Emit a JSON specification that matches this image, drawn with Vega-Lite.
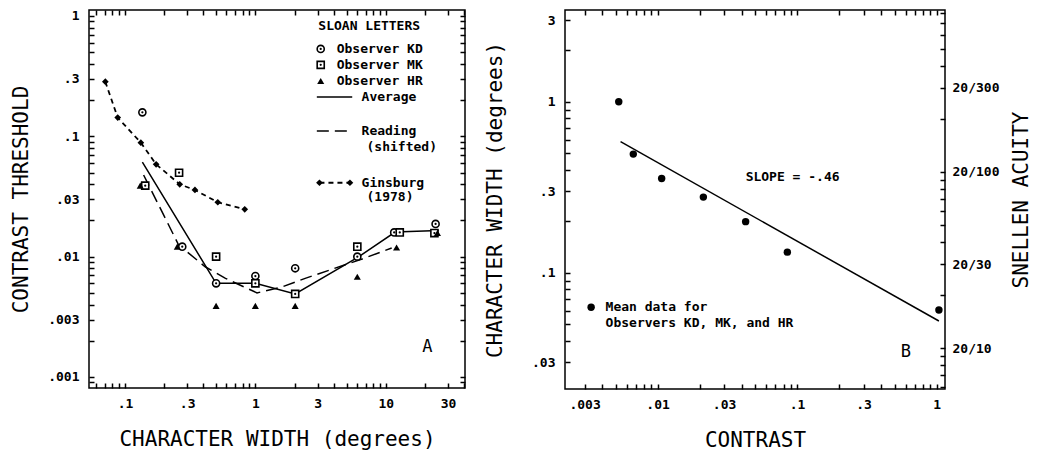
{
  "$schema": "https://vega.github.io/schema/vega-lite/v6.json",
  "padding": {"left": 9, "top": 6, "right": 2, "bottom": 0},
  "background": "white",
  "datasets": {
    "obs": [
      {"obs": "KD", "x": 0.136, "y": 0.158, "part": "data"},
      {"obs": "KD", "x": 0.275, "y": 0.0121, "part": "data"},
      {"obs": "KD", "x": 0.5, "y": 0.006, "part": "data"},
      {"obs": "KD", "x": 1.0, "y": 0.0069, "part": "data"},
      {"obs": "KD", "x": 2.02, "y": 0.008, "part": "data"},
      {"obs": "KD", "x": 6.05, "y": 0.01, "part": "data"},
      {"obs": "KD", "x": 11.6, "y": 0.0159, "part": "data"},
      {"obs": "KD", "x": 24.1, "y": 0.0187, "part": "data"},
      {"obs": "MK", "x": 0.143, "y": 0.0389, "part": "data"},
      {"obs": "MK", "x": 0.26, "y": 0.0498, "part": "data"},
      {"obs": "MK", "x": 0.5, "y": 0.01, "part": "data"},
      {"obs": "MK", "x": 1.0, "y": 0.006, "part": "data"},
      {"obs": "MK", "x": 2.02, "y": 0.0049, "part": "data"},
      {"obs": "MK", "x": 6.05, "y": 0.0121, "part": "data"},
      {"obs": "MK", "x": 12.8, "y": 0.0159, "part": "data"},
      {"obs": "MK", "x": 23.6, "y": 0.0157, "part": "data"},
      {"obs": "HR", "x": 0.131, "y": 0.0389, "part": "data"},
      {"obs": "HR", "x": 0.252, "y": 0.0121, "part": "data"},
      {"obs": "HR", "x": 0.5, "y": 0.0039, "part": "data"},
      {"obs": "HR", "x": 1.0, "y": 0.0039, "part": "data"},
      {"obs": "HR", "x": 2.02, "y": 0.0039, "part": "data"},
      {"obs": "HR", "x": 6.05, "y": 0.0068, "part": "data"},
      {"obs": "HR", "x": 12.1, "y": 0.0119, "part": "data"},
      {"obs": "HR", "x": 24.9, "y": 0.0157, "part": "data"},
      {"obs": "KD", "x": 3.17, "y": 0.532, "part": "legend"},
      {"obs": "MK", "x": 3.17, "y": 0.392, "part": "legend"},
      {"obs": "HR", "x": 3.17, "y": 0.288, "part": "legend"}
    ],
    "ginsburg": [
      {"x": 0.0707, "y": 0.284, "part": "data"},
      {"x": 0.088, "y": 0.143, "part": "data"},
      {"x": 0.1324, "y": 0.0885, "part": "data"},
      {"x": 0.1734, "y": 0.0585, "part": "data"},
      {"x": 0.263, "y": 0.0399, "part": "data"},
      {"x": 0.344, "y": 0.0358, "part": "data"},
      {"x": 0.515, "y": 0.0283, "part": "data"},
      {"x": 0.829, "y": 0.0247, "part": "data"},
      {"x": 3.1, "y": 0.0411, "part": "legend"},
      {"x": 5.31, "y": 0.0411, "part": "legend"}
    ],
    "avg": [
      {"x": 0.136, "y": 0.061, "part": "data"},
      {"x": 0.5, "y": 0.006, "part": "data"},
      {"x": 1.0, "y": 0.006, "part": "data"},
      {"x": 2.02, "y": 0.0049, "part": "data"},
      {"x": 6.05, "y": 0.0098, "part": "data"},
      {"x": 11.8, "y": 0.016, "part": "data"},
      {"x": 25.5, "y": 0.0165, "part": "data"},
      {"x": 2.96, "y": 0.212, "part": "legend"},
      {"x": 5.53, "y": 0.212, "part": "legend"}
    ],
    "reading": [
      {"x": 0.139, "y": 0.0477, "part": "data"},
      {"x": 0.258, "y": 0.0125, "part": "data"},
      {"x": 0.415, "y": 0.0082, "part": "data"},
      {"x": 0.59, "y": 0.0066, "part": "data"},
      {"x": 1.03, "y": 0.005, "part": "data"},
      {"x": 1.6, "y": 0.0056, "part": "data"},
      {"x": 2.41, "y": 0.0066, "part": "data"},
      {"x": 6.67, "y": 0.0096, "part": "data"},
      {"x": 11.1, "y": 0.0118, "part": "data"},
      {"x": 2.96, "y": 0.1107, "part": "legend"},
      {"x": 5.53, "y": 0.1107, "part": "legend"}
    ],
    "legA": [
      {"x": 3.04, "y": 0.826, "label": "SLOAN LETTERS"},
      {"x": 4.2, "y": 0.532, "label": "Observer KD"},
      {"x": 4.2, "y": 0.392, "label": "Observer MK"},
      {"x": 4.2, "y": 0.288, "label": "Observer HR"},
      {"x": 6.52, "y": 0.212, "label": "Average"},
      {"x": 6.52, "y": 0.1107, "label": "Reading"},
      {"x": 7.12, "y": 0.082, "label": "(shifted)"},
      {"x": 6.52, "y": 0.0411, "label": "Ginsburg"},
      {"x": 7.12, "y": 0.0315, "label": "(1978)"}
    ],
    "meanB": [
      {"x": 0.00527, "y": 1.0, "part": "data"},
      {"x": 0.0067, "y": 0.494, "part": "data"},
      {"x": 0.0107, "y": 0.356, "part": "data"},
      {"x": 0.0213, "y": 0.277, "part": "data"},
      {"x": 0.0428, "y": 0.199, "part": "data"},
      {"x": 0.0852, "y": 0.132, "part": "data"},
      {"x": 1.04, "y": 0.0605, "part": "data"},
      {"x": 0.00334, "y": 0.0628, "part": "legend"}
    ],
    "fitB": [
      {"x": 0.00543, "y": 0.584},
      {"x": 1.04, "y": 0.0522}
    ],
    "textB": [
      {"x": 0.0428, "y": 0.364, "label": "SLOPE = -.46"},
      {"x": 0.00424, "y": 0.0628, "label": "Mean data for"},
      {"x": 0.00424, "y": 0.051, "label": "Observers KD, MK, and HR"}
    ]
  },
  "hconcat": [
    {
      "width": 376,
      "height": 378,
      "layer": [
        {"data": {"values": [{"x": 1, "y": 0.01}]}, "mark": {"type": "point", "opacity": 0},
          "encoding": {
            "x": {"field": "x", "type": "quantitative", "scale": {"type": "log", "domain": [0.053, 40.5], "nice": false},
              "axis": {"orient": "bottom", "title": "CHARACTER WIDTH (degrees)", "labelPadding": 9, "titlePadding": 18, "tickCount": 10,
                "labelExpr": "(abs(datum.value / pow(10, floor(log(datum.value) / LN10 + 1e-9)) - 1) < 1e-6 || abs(datum.value / pow(10, floor(log(datum.value) / LN10 + 1e-9)) - 3) < 1e-6) ? replace(format(datum.value, '~g'), '0.', '.') : ''"}},
            "y": {"field": "y", "type": "quantitative", "scale": {"type": "log", "domain": [0.00081, 1.12], "nice": false},
              "axis": {"orient": "left", "title": "CONTRAST THRESHOLD", "labelPadding": 10, "titlePadding": 16, "tickCount": 10,
                "labelExpr": "(abs(datum.value / pow(10, floor(log(datum.value) / LN10 + 1e-9)) - 1) < 1e-6 || abs(datum.value / pow(10, floor(log(datum.value) / LN10 + 1e-9)) - 3) < 1e-6) ? replace(format(datum.value, '~g'), '0.', '.') : ''"}}}},
        {"data": {"values": [{"x": 1, "y": 0.01}]}, "mark": {"type": "point", "opacity": 0},
          "encoding": {
            "x": {"field": "x", "type": "quantitative", "scale": {"type": "log", "domain": [0.053, 40.5], "nice": false},
              "axis": {"orient": "top", "title": null, "labels": false, "tickCount": 10}},
            "y": {"field": "y", "type": "quantitative", "scale": {"type": "log", "domain": [0.00081, 1.12], "nice": false},
              "axis": {"orient": "right", "title": null, "labels": false, "tickCount": 10}}}},
        {"data": {"name": "ginsburg"}, "mark": {"type": "line", "color": "black", "strokeWidth": 1.8, "strokeDash": [5, 4]},
          "encoding": {
            "x": {"field": "x", "type": "quantitative", "scale": {"type": "log", "domain": [0.053, 40.5], "nice": false}, "axis": null},
            "y": {"field": "y", "type": "quantitative", "scale": {"type": "log", "domain": [0.00081, 1.12], "nice": false}, "axis": null},
            "detail": {"field": "part"}}},
        {"data": {"name": "ginsburg"}, "mark": {"type": "point", "shape": "diamond", "filled": true, "color": "black", "size": 45, "opacity": 1},
          "encoding": {
            "x": {"field": "x", "type": "quantitative", "scale": {"type": "log", "domain": [0.053, 40.5], "nice": false}, "axis": null},
            "y": {"field": "y", "type": "quantitative", "scale": {"type": "log", "domain": [0.00081, 1.12], "nice": false}, "axis": null}}},
        {"data": {"name": "avg"}, "mark": {"type": "line", "color": "black", "strokeWidth": 1.5},
          "encoding": {
            "x": {"field": "x", "type": "quantitative", "scale": {"type": "log", "domain": [0.053, 40.5], "nice": false}, "axis": null},
            "y": {"field": "y", "type": "quantitative", "scale": {"type": "log", "domain": [0.00081, 1.12], "nice": false}, "axis": null},
            "detail": {"field": "part"}}},
        {"data": {"name": "reading"}, "mark": {"type": "line", "color": "black", "strokeWidth": 1.5, "strokeDash": [12, 6]},
          "encoding": {
            "x": {"field": "x", "type": "quantitative", "scale": {"type": "log", "domain": [0.053, 40.5], "nice": false}, "axis": null},
            "y": {"field": "y", "type": "quantitative", "scale": {"type": "log", "domain": [0.00081, 1.12], "nice": false}, "axis": null},
            "detail": {"field": "part"}}},
        {"data": {"name": "obs"}, "transform": [{"filter": "datum.obs == 'KD'"}],
          "mark": {"type": "point", "shape": "circle", "filled": true, "fill": "white", "stroke": "black", "strokeWidth": 1.6, "size": 50, "opacity": 1},
          "encoding": {
            "x": {"field": "x", "type": "quantitative", "scale": {"type": "log", "domain": [0.053, 40.5], "nice": false}, "axis": null},
            "y": {"field": "y", "type": "quantitative", "scale": {"type": "log", "domain": [0.00081, 1.12], "nice": false}, "axis": null}}},
        {"data": {"name": "obs"}, "transform": [{"filter": "datum.obs == 'MK'"}],
          "mark": {"type": "point", "shape": "square", "filled": true, "fill": "white", "stroke": "black", "strokeWidth": 1.6, "size": 50, "opacity": 1},
          "encoding": {
            "x": {"field": "x", "type": "quantitative", "scale": {"type": "log", "domain": [0.053, 40.5], "nice": false}, "axis": null},
            "y": {"field": "y", "type": "quantitative", "scale": {"type": "log", "domain": [0.00081, 1.12], "nice": false}, "axis": null}}},
        {"data": {"name": "obs"}, "transform": [{"filter": "datum.obs != 'HR'"}],
          "mark": {"type": "point", "shape": "circle", "filled": true, "color": "black", "size": 5, "opacity": 1},
          "encoding": {
            "x": {"field": "x", "type": "quantitative", "scale": {"type": "log", "domain": [0.053, 40.5], "nice": false}, "axis": null},
            "y": {"field": "y", "type": "quantitative", "scale": {"type": "log", "domain": [0.00081, 1.12], "nice": false}, "axis": null}}},
        {"data": {"name": "obs"}, "transform": [{"filter": "datum.obs == 'HR'"}],
          "mark": {"type": "point", "shape": "triangle-up", "filled": true, "color": "black", "size": 50, "opacity": 1},
          "encoding": {
            "x": {"field": "x", "type": "quantitative", "scale": {"type": "log", "domain": [0.053, 40.5], "nice": false}, "axis": null},
            "y": {"field": "y", "type": "quantitative", "scale": {"type": "log", "domain": [0.00081, 1.12], "nice": false}, "axis": null}}},
        {"data": {"name": "legA"},
          "mark": {"type": "text", "align": "left", "baseline": "middle", "font": "DejaVu Sans Mono", "fontWeight": "bold", "fontSize": 13, "color": "black"},
          "encoding": {
            "x": {"field": "x", "type": "quantitative", "scale": {"type": "log", "domain": [0.053, 40.5], "nice": false}, "axis": null},
            "y": {"field": "y", "type": "quantitative", "scale": {"type": "log", "domain": [0.00081, 1.12], "nice": false}, "axis": null},
            "text": {"field": "label"}}},
        {"data": {"values": [{"x": 20.8, "y": 0.00178, "label": "A"}]},
          "mark": {"type": "text", "align": "center", "baseline": "middle", "font": "DejaVu Sans Mono", "fontSize": 17, "color": "black"},
          "encoding": {
            "x": {"field": "x", "type": "quantitative", "scale": {"type": "log", "domain": [0.053, 40.5], "nice": false}, "axis": null},
            "y": {"field": "y", "type": "quantitative", "scale": {"type": "log", "domain": [0.00081, 1.12], "nice": false}, "axis": null},
            "text": {"field": "label"}}}
      ],
      "resolve": {"scale": {"x": "independent", "y": "independent"}, "axis": {"x": "independent", "y": "independent"}}
    },
    {
      "width": 380,
      "height": 379,
      "layer": [
        {"data": {"values": [{"x": 0.01, "y": 0.1}]}, "mark": {"type": "point", "opacity": 0},
          "encoding": {
            "x": {"field": "x", "type": "quantitative", "scale": {"type": "log", "domain": [0.00217, 1.15], "nice": false},
              "axis": {"orient": "bottom", "title": "CONTRAST", "labelPadding": 9, "titlePadding": 18, "tickCount": 10,
                "labelExpr": "(abs(datum.value / pow(10, floor(log(datum.value) / LN10 + 1e-9)) - 1) < 1e-6 || abs(datum.value / pow(10, floor(log(datum.value) / LN10 + 1e-9)) - 3) < 1e-6) ? replace(format(datum.value, '~g'), '0.', '.') : ''"}},
            "y": {"field": "y", "type": "quantitative", "scale": {"type": "log", "domain": [0.0209, 3.44], "nice": false},
              "axis": {"orient": "left", "title": "CHARACTER WIDTH (degrees)", "labelPadding": 10, "titlePadding": 26, "tickCount": 10,
                "labelExpr": "(abs(datum.value / pow(10, floor(log(datum.value) / LN10 + 1e-9)) - 1) < 1e-6 || abs(datum.value / pow(10, floor(log(datum.value) / LN10 + 1e-9)) - 3) < 1e-6) ? replace(format(datum.value, '~g'), '0.', '.') : ''"}}}},
        {"data": {"values": [{"x": 0.01, "y": 20}]}, "mark": {"type": "point", "opacity": 0},
          "encoding": {
            "x": {"field": "x", "type": "quantitative", "scale": {"type": "log", "domain": [0.00217, 1.15], "nice": false},
              "axis": {"orient": "top", "title": null, "labels": false, "tickCount": 10}},
            "y": {"field": "y", "type": "quantitative", "scale": {"type": "log", "domain": [5.85, 832], "nice": false},
              "axis": {"orient": "right", "title": "SNELLEN ACUITY", "titleAngle": 270, "titleBaseline": "top", "labelPadding": 7, "titlePadding": 12, "tickCount": 10,
                "labelExpr": "(abs(datum.value / pow(10, floor(log(datum.value) / LN10 + 1e-9)) - 1) < 1e-6 || abs(datum.value / pow(10, floor(log(datum.value) / LN10 + 1e-9)) - 3) < 1e-6) ? '20/' + format(datum.value, 'd') : ''"}}}},
        {"data": {"name": "fitB"}, "mark": {"type": "line", "color": "black", "strokeWidth": 1.5},
          "encoding": {
            "x": {"field": "x", "type": "quantitative", "scale": {"type": "log", "domain": [0.00217, 1.15], "nice": false}, "axis": null},
            "y": {"field": "y", "type": "quantitative", "scale": {"type": "log", "domain": [0.0209, 3.44], "nice": false}, "axis": null}}},
        {"data": {"name": "meanB"}, "mark": {"type": "point", "shape": "circle", "filled": true, "color": "black", "size": 55, "opacity": 1},
          "encoding": {
            "x": {"field": "x", "type": "quantitative", "scale": {"type": "log", "domain": [0.00217, 1.15], "nice": false}, "axis": null},
            "y": {"field": "y", "type": "quantitative", "scale": {"type": "log", "domain": [0.0209, 3.44], "nice": false}, "axis": null}}},
        {"data": {"name": "textB"},
          "mark": {"type": "text", "align": "left", "baseline": "middle", "font": "DejaVu Sans Mono", "fontWeight": "bold", "fontSize": 13, "color": "black"},
          "encoding": {
            "x": {"field": "x", "type": "quantitative", "scale": {"type": "log", "domain": [0.00217, 1.15], "nice": false}, "axis": null},
            "y": {"field": "y", "type": "quantitative", "scale": {"type": "log", "domain": [0.0209, 3.44], "nice": false}, "axis": null},
            "text": {"field": "label"}}},
        {"data": {"values": [{"x": 0.602, "y": 0.0345, "label": "B"}]},
          "mark": {"type": "text", "align": "center", "baseline": "middle", "font": "DejaVu Sans Mono", "fontSize": 17, "color": "black"},
          "encoding": {
            "x": {"field": "x", "type": "quantitative", "scale": {"type": "log", "domain": [0.00217, 1.15], "nice": false}, "axis": null},
            "y": {"field": "y", "type": "quantitative", "scale": {"type": "log", "domain": [0.0209, 3.44], "nice": false}, "axis": null},
            "text": {"field": "label"}}}
      ],
      "resolve": {"scale": {"x": "independent", "y": "independent"}, "axis": {"x": "independent", "y": "independent"}}
    }
  ],
  "config": {
    "font": "DejaVu Sans Mono",
    "view": {"stroke": "black", "strokeWidth": 1.5},
    "concat": {"spacing": 16},
    "axis": {
      "grid": false,
      "domain": false,
      "offset": -5,
      "ticks": true,
      "tickColor": "#000000",
      "tickOpacity": 1,
      "tickWidth": 1.5,
      "tickSize": 5,
      "labelFont": "DejaVu Sans Mono",
      "labelFontWeight": "bold",
      "labelFontSize": 13,
      "labelColor": "black",
      "labelOverlap": false,
      "labelFlush": false,
      "titleFont": "DejaVu Sans Mono",
      "titleFontWeight": "normal",
      "titleFontSize": 21,
      "titleColor": "black"
    }
  }
}
